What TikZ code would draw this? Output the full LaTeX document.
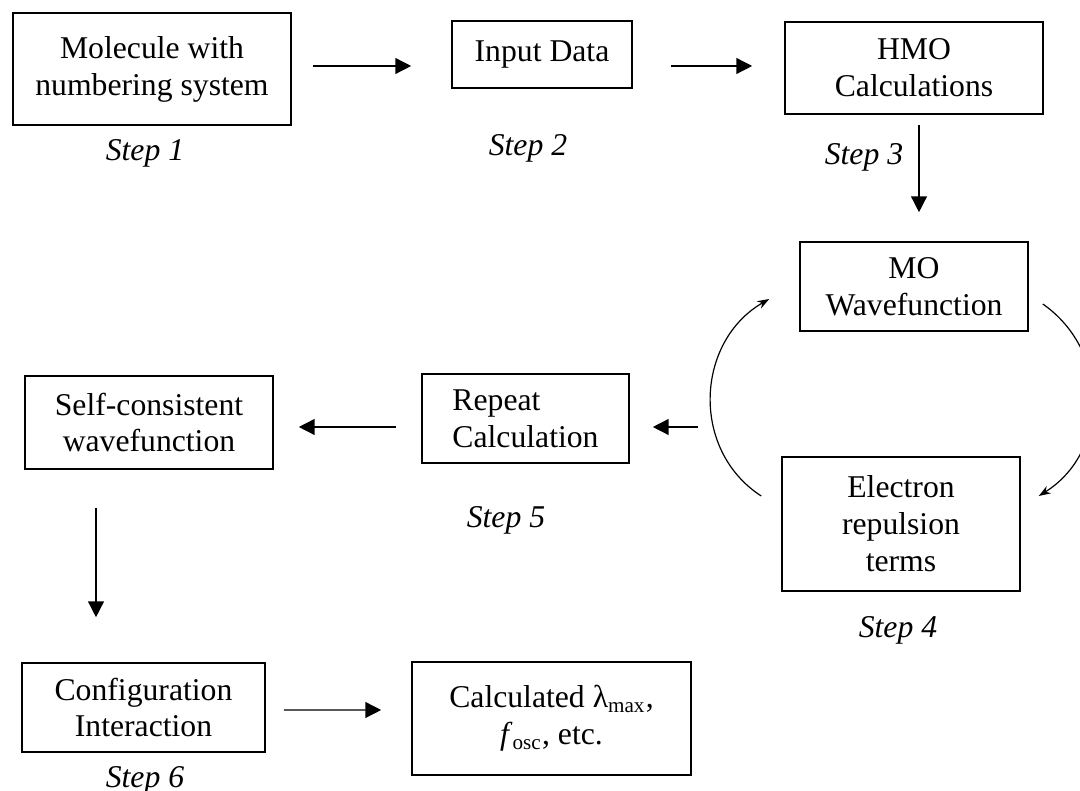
\documentclass[tikz,border=0pt]{standalone}
\usepackage{fontspec}
\setmainfont{Liberation Serif}
\usetikzlibrary{arrows.meta,calc}
\newcommand{\upx}{0.1331mm}
\tikzset{
  blk/.style 2 args={draw,line width=0.6pt,minimum width=#1*\upx,
                     minimum height=#2*\upx,inner sep=0pt,align=center},
  ar/.style={-{Triangle[length=6pt,width=6pt]},line width=0.55pt},
  cyc/.style={-{Stealth[length=4.5pt,width=3.2pt]},line width=0.45pt,looseness=1.1},
  lbl/.style={font=\fontsize{12}{14}\selectfont\itshape},
}

\begin{document}
\begin{tikzpicture}[x=\upx,y=\upx,font=\fontsize{12}{14}\selectfont]
    \clip (0,0) rectangle (1080,791);
    \node[blk={278}{112}] (mol) at (152,722) {Molecule with\\numbering system};
    \node[blk={180}{67}] (inp) at (542,736.5) {Input Data};
    \node[blk={258}{92}] (hmo) at (914,723) {HMO\\Calculations};
    \node[blk={228}{89}] (mo) at (914,504.5) {MO\\Wavefunction};
    \node[blk={238}{134}] (elec) at (901,267) {Electron\\repulsion\\terms};
    \node[blk={207}{89},align=left] (rep) at (525.5,372.5) {Repeat\\Calculation};
    \node[blk={248}{93}] (scf) at (149,368.5) {Self-consistent\\wavefunction};
    \node[blk={243}{89}] (ci) at (143.5,83.5) {Configuration\\Interaction};
    \node[blk={279}{113}] (res) at (551.5,72.5)
      {Calculated λ\textsubscript{max},\\\textit{f}\textsubscript{osc}, etc.};

    \node[lbl] (s1) at (145,638) {Step 1};
    \node[lbl] (s2) at (528,643) {Step 2};
    \node[lbl] (s3) at (864,634) {Step 3};
    \node[lbl] (s4) at (898,161) {Step 4};
    \node[lbl] (s5) at (506,271) {Step 5};
    \node[lbl] (s6) at (145,11) {Step 6};

    \draw[ar] ([shift={(21,3)}]mol.east) -- ([shift={(-40,-11.5)}]inp.west);
    \draw[ar] ([shift={(38,-11.5)}]inp.east) -- ([shift={(-32,2)}]hmo.west);
    \draw[ar] ([shift={(5,-10)}]hmo.south) -- ([shift={(5,29)}]mo.north);
    % the SCF loop
    \draw[cyc] ([shift={(14,-17.5)}]mo.east) to[out=-35,in=32] ([shift={(18,28)}]elec.east);
    \draw[cyc] ([shift={(-20,28)}]elec.west) to[out=147,in=210] ([shift={(-30,-12.5)}]mo.west);
    \coordinate (back) at ([shift={(68,-8.5)}]rep.east);
    \draw[ar] (back) -- ([shift={(23,-8.5)}]rep.east);
    \draw[ar] ([shift={(-25,-8.5)}]rep.west) -- ([shift={(25,-4.5)}]scf.east);
    \draw[ar] ([shift={(-53,-38)}]scf.south) -- ([shift={(-47.5,45)}]ci.north);
    \draw[ar] ([shift={(18,-2.5)}]ci.east) -- ([shift={(-30,8.5)}]res.west);
\end{tikzpicture}
\end{document}
